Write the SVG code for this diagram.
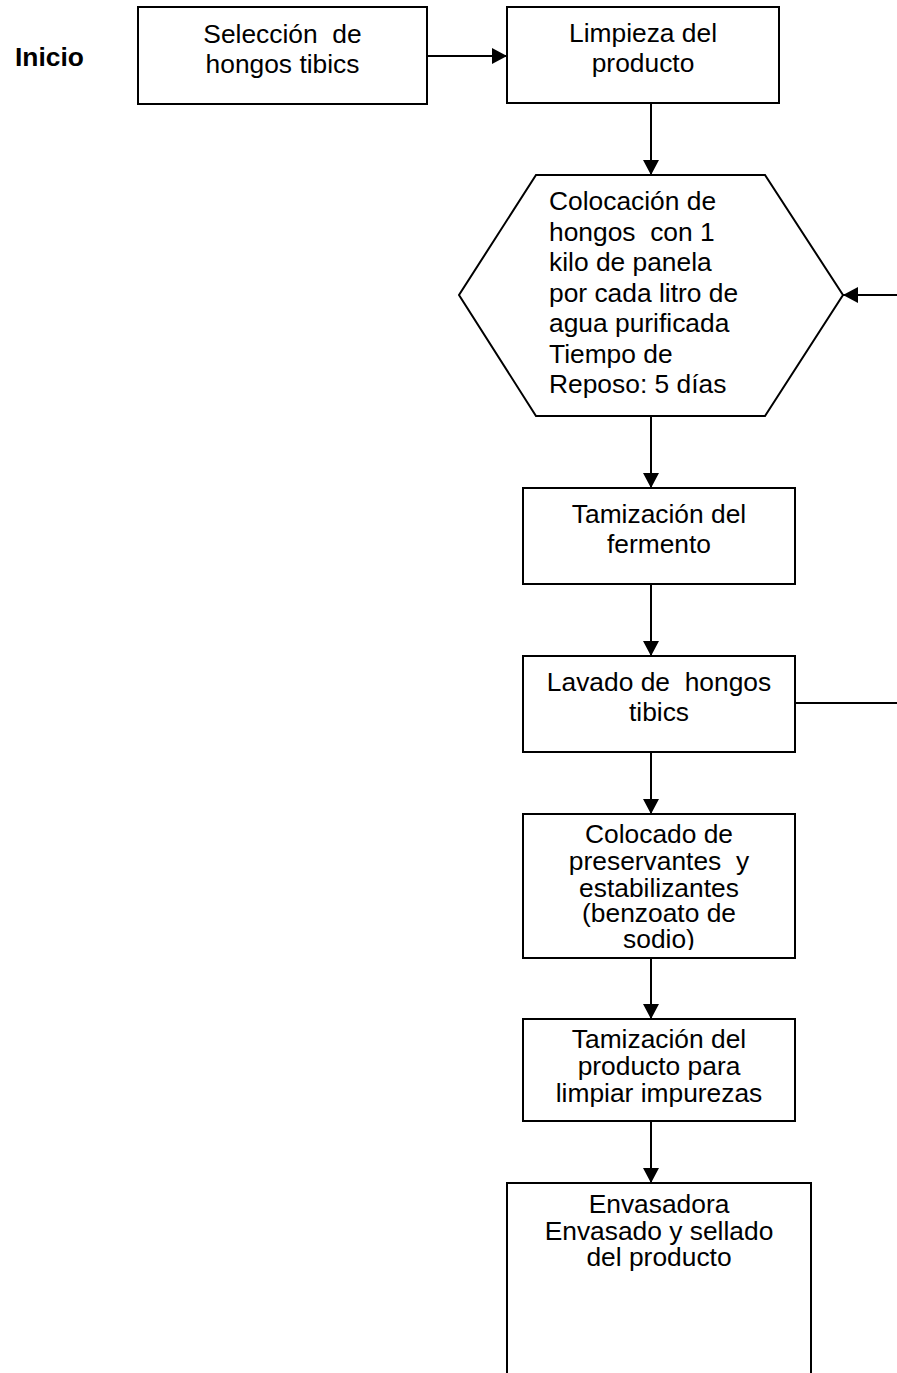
<svg xmlns="http://www.w3.org/2000/svg" width="897" height="1373" viewBox="0 0 897 1373">
<style>
.box{fill:#fff;stroke:#000;stroke-width:2}
.t{font-family:"Liberation Sans",Arial,sans-serif;font-size:25px;fill:#000;white-space:pre}
.c{text-anchor:middle}
.b{font-weight:bold}
.ln{stroke:#000;stroke-width:2;fill:none}
</style>
<defs>
<marker id="ah" markerUnits="userSpaceOnUse" markerWidth="16" markerHeight="16" refX="15" refY="8" orient="auto">
<path d="M0,0 L15,8 L0,16 Z" fill="#000"/>
</marker>
<clipPath id="clipC"><rect x="523" y="814" width="272" height="136"/></clipPath>
</defs>
<rect width="897" height="1373" fill="#fff"/>
<g id="inicio">
<text class="t b" transform="translate(15,66) scale(1.055,1)">Inicio</text>
</g>
<g id="connectors">
<line class="ln" x1="427" y1="56" x2="507" y2="56" marker-end="url(#ah)"/>
<line class="ln" x1="651" y1="103" x2="651" y2="175" marker-end="url(#ah)"/>
<line class="ln" x1="897" y1="295" x2="843" y2="295" marker-end="url(#ah)"/>
<line class="ln" x1="651" y1="416" x2="651" y2="488" marker-end="url(#ah)"/>
<line class="ln" x1="651" y1="584" x2="651" y2="656" marker-end="url(#ah)"/>
<line class="ln" x1="795" y1="703" x2="897" y2="703"/>
<line class="ln" x1="651" y1="752" x2="651" y2="814" marker-end="url(#ah)"/>
<line class="ln" x1="651" y1="958" x2="651" y2="1019" marker-end="url(#ah)"/>
<line class="ln" x1="651" y1="1121" x2="651" y2="1183" marker-end="url(#ah)"/>
</g>
<g id="seleccion">
<rect class="box" x="138" y="7" width="289" height="97"/>
<text class="t c" transform="translate(282.5,43) scale(1.055,1)">Selección  de</text>
<text class="t c" transform="translate(282.5,73) scale(1.055,1)">hongos tibics</text>
</g>
<g id="limpieza">
<rect class="box" x="507" y="7" width="272" height="96"/>
<text class="t c" transform="translate(643,42) scale(1.055,1)">Limpieza del</text>
<text class="t c" transform="translate(643,72) scale(1.055,1)">producto</text>
</g>
<g id="colocacion">
<polygon class="box" points="536,175 765,175 843,295 765,416 536,416 459,295"/>
<text class="t" transform="translate(549,210) scale(1.055,1)">Colocación de</text>
<text class="t" transform="translate(549,240.5) scale(1.055,1)">hongos  con 1</text>
<text class="t" transform="translate(549,271) scale(1.055,1)">kilo de panela</text>
<text class="t" transform="translate(549,301.5) scale(1.055,1)">por cada litro de</text>
<text class="t" transform="translate(549,332) scale(1.055,1)">agua purificada</text>
<text class="t" transform="translate(549,362.5) scale(1.055,1)">Tiempo de</text>
<text class="t" transform="translate(549,393) scale(1.055,1)">Reposo: 5 días</text>
</g>
<g id="tamizacion-fermento">
<rect class="box" x="523" y="488" width="272" height="96"/>
<text class="t c" transform="translate(659,523) scale(1.055,1)">Tamización del</text>
<text class="t c" transform="translate(659,553) scale(1.055,1)">fermento</text>
</g>
<g id="lavado">
<rect class="box" x="523" y="656" width="272" height="96"/>
<text class="t c" transform="translate(659,691) scale(1.055,1)">Lavado de  hongos</text>
<text class="t c" transform="translate(659,721) scale(1.055,1)">tibics</text>
</g>
<g id="colocado">
<rect class="box" x="523" y="814" width="272" height="144"/>
<g clip-path="url(#clipC)">
<text class="t c" transform="translate(659,843) scale(1.055,1)">Colocado de</text>
<text class="t c" transform="translate(659,870) scale(1.055,1)">preservantes  y</text>
<text class="t c" transform="translate(659,897) scale(1.055,1)">estabilizantes</text>
<text class="t c" transform="translate(659,922) scale(1.055,1)">(benzoato de</text>
<text class="t c" transform="translate(659,948) scale(1.055,1)">sodio)</text>
</g>
</g>
<g id="tamizacion-producto">
<rect class="box" x="523" y="1019" width="272" height="102"/>
<text class="t c" transform="translate(659,1048) scale(1.055,1)">Tamización del</text>
<text class="t c" transform="translate(659,1075) scale(1.055,1)">producto para</text>
<text class="t c" transform="translate(659,1102) scale(1.055,1)">limpiar impurezas</text>
</g>
<g id="envasadora">
<rect class="box" x="507" y="1183" width="304" height="200"/>
<text class="t c" transform="translate(659,1213) scale(1.055,1)">Envasadora</text>
<text class="t c" transform="translate(659,1240) scale(1.055,1)">Envasado y sellado</text>
<text class="t c" transform="translate(659,1266) scale(1.055,1)">del producto</text>
</g>
</svg>
